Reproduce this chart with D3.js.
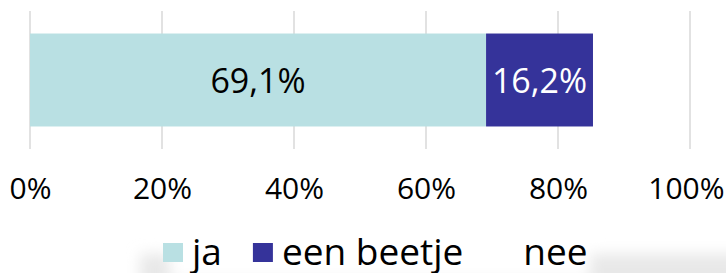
<!DOCTYPE html>
<html>
<head>
<meta charset="utf-8">
<script src="https://cdn.jsdelivr.net/npm/d3@7"></script>
<style>
  body { margin: 0; background: #fff; }
  svg { display: block; font-family: "Open Sans", sans-serif; }
</style>
</head>
<body>
<svg id="chart"></svg>
<script>
// data
const categories = ["ja", "een beetje", "nee"];
const values = [69.1, 16.2, 14.7];
const colors = ["#b9e0e3", "#35339a", "#ffffff"];
const labelColors = ["#000000", "#ffffff", null];
const tickValues = [0, 20, 40, 60, 80, 100];

const width = 726, height = 273;

const svg = d3.select("#chart")
    .attr("width", width)
    .attr("height", height);

// faint background texture at the bottom
const defs = svg.append("defs");
defs.append("filter").attr("id", "blur")
    .attr("x", "-20%").attr("y", "-50%").attr("width", "140%").attr("height", "200%")
    .append("feGaussianBlur").attr("stdDeviation", 7);

const bg = svg.append("g").attr("filter", "url(#blur)");
bg.append("rect").attr("x", 140).attr("y", 254).attr("width", 620).attr("height", 40).attr("fill", "#e8e8e8");
bg.append("rect").attr("x", 170).attr("y", 240).attr("width", 420).attr("height", 40).attr("fill", "#ffffff");

const x = d3.scaleLinear().domain([0, 100]).range([30, 690]);
const y = d3.scaleBand().domain(["q"]).range([11, 149]).padding(0.195);

// gridlines
svg.append("g")
    .selectAll("line")
    .data(tickValues)
    .join("line")
    .attr("x1", d => x(d)).attr("x2", d => x(d))
    .attr("y1", 11).attr("y2", 149)
    .attr("stroke", "#d9d9d9")
    .attr("stroke-width", 1.5);

// stacked segments
let acc = 0;
const segs = values.map((v, i) => {
    const s = { key: categories[i], x0: acc, x1: acc + v, v: v, i: i };
    acc += v;
    return s;
});

svg.append("g")
    .selectAll("rect")
    .data(segs.filter(d => colors[d.i] !== "#ffffff"))
    .join("rect")
    .attr("x", d => x(d.x0))
    .attr("width", d => x(d.x1) - x(d.x0))
    .attr("y", y("q"))
    .attr("height", y.bandwidth())
    .attr("fill", d => colors[d.i]);

svg.append("g")
    .selectAll("text")
    .data(segs.filter(d => labelColors[d.i]))
    .join("text")
    .attr("x", d => (x(d.x0) + x(d.x1)) / 2)
    .attr("y", 93)
    .attr("text-anchor", "middle")
    .attr("font-size", 34)
    .attr("fill", d => labelColors[d.i])
    .text(d => d.v.toFixed(1).replace(".", ",") + "%");

// x axis labels
const xAxis = d3.axisBottom(x)
    .tickValues(tickValues)
    .tickSize(0)
    .tickFormat(d => d + "%");

const axisG = svg.append("g")
    .attr("transform", "translate(0,149)")
    .call(xAxis);
axisG.select(".domain").remove();
axisG.selectAll("text")
    .attr("y", 50)
    .attr("dy", 0)
    .attr("font-size", 30)
    .attr("font-family", "Open Sans, sans-serif")
    .attr("fill", "#000")
    .each(function (d) {
        // keep the last label inside the picture
        const w = this.getComputedTextLength();
        const over = x(d) + w / 2 - (width - 2);
        if (over > 0) d3.select(this).attr("x", -over);
    });

// legend
const legend = svg.append("g");
let lx = 163;
categories.forEach((c, i) => {
    legend.append("rect")
        .attr("x", lx).attr("y", 243)
        .attr("width", 20).attr("height", 19)
        .attr("fill", colors[i]);
    const t = legend.append("text")
        .attr("x", lx + 29).attr("y", 265)
        .attr("font-size", 37)
        .attr("fill", "#000")
        .text(c);
    lx = lx + 29 + t.node().getComputedTextLength() + 31;
});
</script>
</body>
</html>
